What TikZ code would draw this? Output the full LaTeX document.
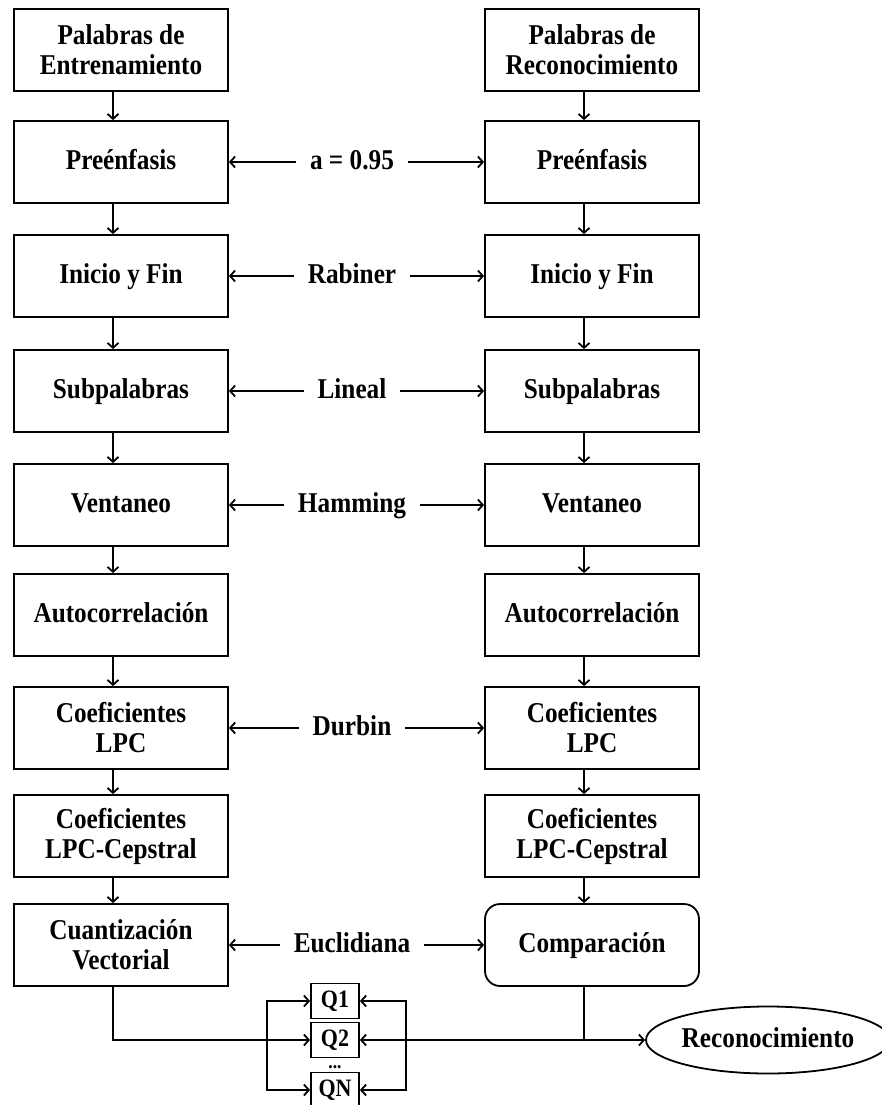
\documentclass[tikz,border=0pt]{standalone}
\usepackage{fontspec}
\setmainfont{Liberation Serif}[FakeStretch=0.88]
\usetikzlibrary{shapes.geometric,arrows.meta}

\begin{document}
\begin{tikzpicture}[x=1pt,y=-1pt,line width=1.8pt,
  >={Straight Barb[length=5pt,width=11pt]},
  box/.style={draw,minimum width=214pt,minimum height=82pt,inner sep=0pt,align=center,
    font=\fontsize{28.7}{30}\selectfont\bfseries},
  sbox/.style={box,text height=20pt,text depth=6pt},
  lab/.style={inner xsep=13pt,inner ysep=0pt,text height=20pt,text depth=6pt,
    font=\fontsize{28.7}{30}\selectfont\bfseries},
  qbox/.style={draw,minimum width=48pt,minimum height=35pt,inner sep=0pt,
    text height=17pt,text depth=4pt,font=\fontsize{25}{26}\selectfont\bfseries}]
\useasboundingbox (0,0) rectangle (881,1105);
\node [box] (e1) at (121,50) {Palabras de\\Entrenamiento};
\node [sbox] (e2) at (121,162) {Preénfasis};
\node [sbox] (e3) at (121,276) {Inicio y Fin};
\node [sbox] (e4) at (121,391) {Subpalabras};
\node [sbox] (e5) at (121,505) {Ventaneo};
\node [sbox] (e6) at (121,615) {Autocorrelación};
\node [box] (e7) at (121,728) {Coeficientes\\LPC};
\node [box] (e8) at (121,836) {Coeficientes\\LPC-Cepstral};
\node [box] (e9) at (121,945) {Cuantización\\Vectorial};
\node [box] (r1) at (592,50) {Palabras de\\Reconocimiento};
\node [sbox] (r2) at (592,162) {Preénfasis};
\node [sbox] (r3) at (592,276) {Inicio y Fin};
\node [sbox] (r4) at (592,391) {Subpalabras};
\node [sbox] (r5) at (592,505) {Ventaneo};
\node [sbox] (r6) at (592,615) {Autocorrelación};
\node [box] (r7) at (592,728) {Coeficientes\\LPC};
\node [box] (r8) at (592,836) {Coeficientes\\LPC-Cepstral};
\node [sbox,rounded corners=15pt] (r9) at (592,945) {Comparación};
\node [qbox] (q1) at (335,1001) {Q1};
\node [qbox] (q2) at (335,1040) {Q2};
\node [anchor=base,inner sep=0pt,font=\fontsize{20}{20}\selectfont\bfseries] (dots) at (335,1068) {...};
\node [qbox] (qn) at (335,1090) {QN};
\node [ellipse,draw,minimum width=225pt,minimum height=67pt,inner sep=0pt,
  text height=20pt,text depth=6pt,
  font=\fontsize{28.7}{30}\selectfont\bfseries] (rec) at (768,1040) {Reconocimiento};
\foreach \i/\j in {1/2,2/3,3/4,4/5,5/6,6/7,7/8,8/9}
{
  \draw[->] ([xshift=-8pt]e\i.south) -- ([xshift=-8pt]e\j.north);
  \draw[->] ([xshift=-8pt]r\i.south) -- ([xshift=-8pt]r\j.north);
}
\foreach \k/\t in {2/{a = 0.95},3/Rabiner,4/Lineal,5/Hamming,7/Durbin,9/Euclidiana}
{
  \node [lab] (l\k) at (352,0 |- e\k) {\t};
  \draw[->] (l\k.west) -- (e\k.east);
  \draw[->] (l\k.east) -- (r\k.west);
}
\coordinate (a9) at ([xshift=-8pt]e9.south);
\coordinate (b9) at ([xshift=-8pt]r9.south);
\draw[->] (a9) |- (q2.west);
\draw[->] (b9) |- (q2.east);
\draw[->] (b9 |- q2) -- (rec.west);
\coordinate (bl) at (267,1040);
\coordinate (br) at (406,1040);
\draw[<->] (q1.west) -| (bl) |- (qn.west);
\draw[<->] (q1.east) -| (br) |- (qn.east);
\end{tikzpicture}
\end{document}
